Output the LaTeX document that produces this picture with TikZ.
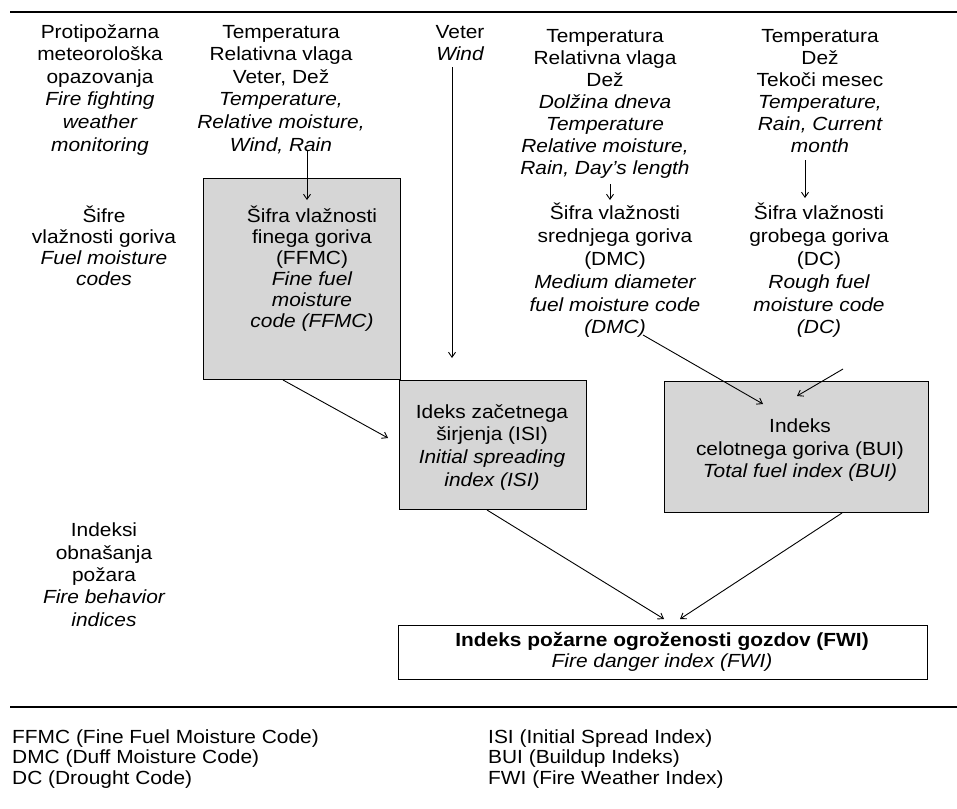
\documentclass[tikz,border=0pt]{standalone}
\usepackage{fontspec}
\setmainfont[FakeStretch=1.1]{Liberation Sans}
\usetikzlibrary{arrows.meta}
\begin{document}
\begin{tikzpicture}[x=1pt,y=-1pt,
  txt/.style={align=center, inner sep=0pt, anchor=north, font=\fontsize{19}{#1}\selectfont},
  txt/.default=22.3,
  leg/.style={align=left, inner sep=0pt, anchor=north west, font=\fontsize{19}{20.5}\selectfont},
  shbox/.style={draw=black, line width=1.4pt, fill=black!16, inner sep=0pt, anchor=north west},
  wbox/.style={draw=black, line width=1.1pt, fill=white, inner sep=0pt, anchor=north west},
  arr/.style={line width=0.9pt, -{Straight Barb[length=5pt,width=7pt]}},
  rule/.style={line width=1.6pt}]
\useasboundingbox (0,0) rectangle (957,808);
\fill[white] (0,0) rectangle (957,808);

% rules
\coordinate (r1a) at (10,12); \coordinate (r1b) at (957,12);
\coordinate (r2a) at (10,707); \coordinate (r2b) at (957,707);
\draw[rule] (r1a) -- (r1b);
\draw[rule] (r2a) -- (r2b);

% column headers
\node[txt=22.6] (c1) at (100,22) {\strut Protipožarna\\meteorološka\\opazovanja\\\itshape Fire fighting\\\itshape weather\\\itshape monitoring};
\node[txt=22.6] (c2) at (281,22) {\strut Temperatura\\Relativna vlaga\\Veter, Dež\\\itshape Temperature,\\\itshape Relative moisture,\\\itshape Wind, Rain};
\node[txt=22.6] (c3) at (460,22) {\strut Veter\\\itshape Wind};
\node[txt=22] (c4) at (605,27) {\strut Temperatura\\Relativna vlaga\\Dež\\\itshape Dolžina dneva\\\itshape Temperature\\\itshape Relative moisture,\\\itshape Rain, Day's length};
\node[txt=22] (c5) at (820,27) {\strut Temperatura\\Dež\\Tekoči mesec\\\itshape Temperature,\\\itshape Rain, Current\\\itshape month};

% left labels
\node[txt=21] (l1) at (104,206) {\strut Šifre\\vlažnosti goriva\\\itshape Fuel moisture\\\itshape codes};
\node[txt=22.3] (l2) at (104,521) {\strut Indeksi\\obnašanja\\požara\\\itshape Fire behavior\\\itshape indices};

% boxes
\node[shbox, minimum width=197pt, minimum height=201pt] (ffmcbox) at (203,178) {};
\node[shbox, minimum width=187pt, minimum height=129pt] (isibox) at (399,380) {};
\node[shbox, minimum width=264pt, minimum height=131pt] (buibox) at (664,381) {};
\node[wbox, minimum width=529pt, minimum height=54pt] (fwibox) at (398,625) {};

% box texts
\node[txt=21] (ffmc) at (312,206) {\strut Šifra vlažnosti\\finega goriva\\(FFMC)\\\itshape Fine fuel\\\itshape moisture\\\itshape code (FFMC)};
\node[txt=22.7] (isi) at (492,402) {\strut Ideks začetnega\\širjenja (ISI)\\\itshape Initial spreading\\\itshape index (ISI)};
\node[txt=22.5] (bui) at (800,417) {\strut Indeks\\celotnega goriva (BUI)\\\itshape Total fuel index (BUI)};
\node[txt=21] (fwi) at (662,632) {\strut\bfseries Indeks požarne ogroženosti gozdov (FWI)\\\itshape Fire danger index (FWI)};

% DMC / DC texts
\node[txt=22.8] (dmc) at (615,203) {\strut Šifra vlažnosti\\srednjega goriva\\(DMC)\\\itshape Medium diameter\\\itshape fuel moisture code\\\itshape (DMC)};
\node[txt=22.8] (dc) at (819,203) {\strut Šifra vlažnosti\\grobega goriva\\(DC)\\\itshape Rough fuel\\\itshape moisture code\\\itshape (DC)};

% legend
\node[leg] (lega) at (12,728.6) {\strut FFMC (Fine Fuel Moisture Code)\\DMC (Duff Moisture Code)\\DC (Drought Code)};
\node[leg] (legb) at (488,728.6) {\strut ISI (Initial Spread Index)\\BUI (Buildup Indeks)\\FWI (Fire Weather Index)};

% connector end points
\coordinate (a1s) at (307,150); \coordinate (a1e) at (307,200);
\coordinate (a2s) at (452,67);  \coordinate (a2e) at (452,358);
\coordinate (a3s) at (610,184); \coordinate (a3e) at (610,200);
\coordinate (a4s) at (805,160); \coordinate (a4e) at (805,198);
\coordinate (a5s) at (283,380); \coordinate (a5e) at (388,438);
\coordinate (a6s) at (643,335); \coordinate (a6e) at (763,404);
\coordinate (a7s) at (843,369); \coordinate (a7e) at (797,396);
\coordinate (a8s) at (487,510); \coordinate (a8e) at (664,619);
\coordinate (a9s) at (842,513); \coordinate (a9e) at (680,619);

\draw[arr] (a1s) -- (a1e);
\draw[arr] (a2s) -- (a2e);
\draw[arr] (a3s) -- (a3e);
\draw[arr] (a4s) -- (a4e);
\draw[arr] (a5s) -- (a5e);
\draw[arr] (a6s) -- (a6e);
\draw[arr] (a7s) -- (a7e);
\draw[arr] (a8s) -- (a8e);
\draw[arr] (a9s) -- (a9e);
\end{tikzpicture}
\end{document}
